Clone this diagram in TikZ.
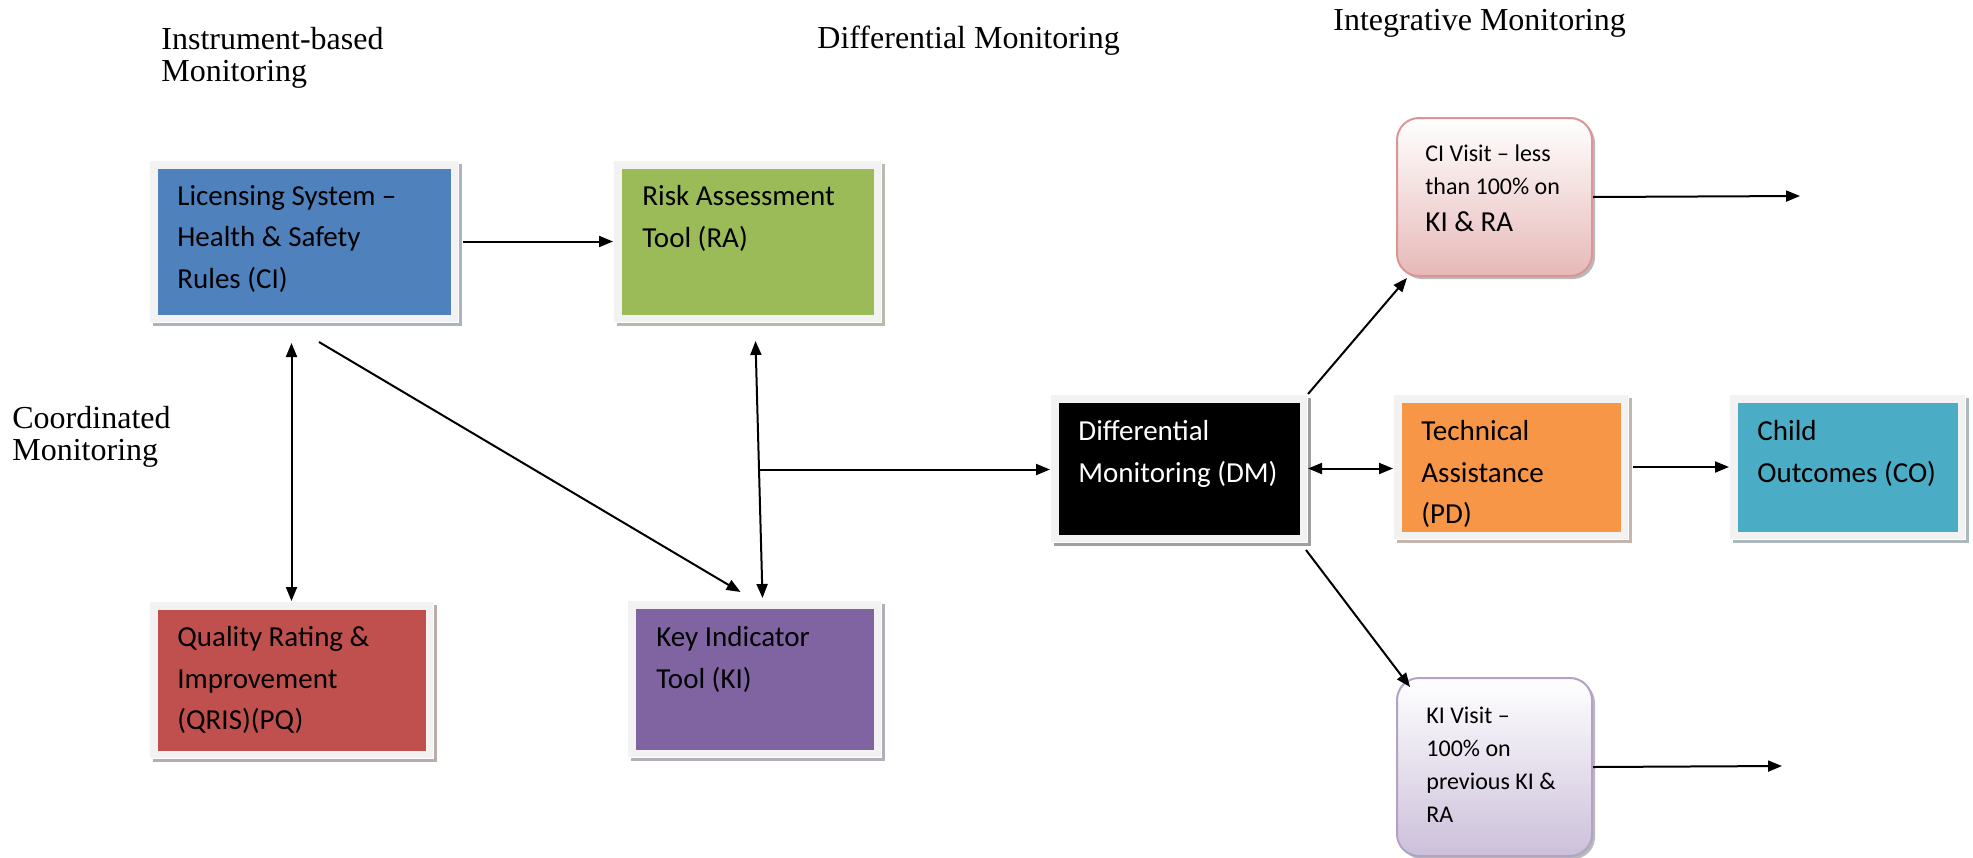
\documentclass[tikz,border=0pt]{standalone}
\usepackage{fontspec}
\setmainfont{Liberation Serif}
\newfontfamily\calfont{Carlito}
\usetikzlibrary{arrows.meta,shadows}
\definecolor{rimgray}{HTML}{F2F2F2}
\definecolor{ciblue}{HTML}{4F81BD}
\definecolor{ragreen}{HTML}{9BBB59}
\definecolor{pqred}{HTML}{C0504D}
\definecolor{kipurple}{HTML}{8064A2}
\definecolor{taorange}{HTML}{F79646}
\definecolor{coteal}{HTML}{4BACC6}
\definecolor{cvpink}{HTML}{E6B9B8}
\definecolor{cvline}{HTML}{D99694}
\definecolor{kvlilac}{HTML}{CCC0DA}
\definecolor{kvline}{HTML}{B3A2C7}
\tikzset{
  >={Triangle[length=7pt,width=5.5pt]},
  conn/.style={line width=1pt},
  toolbox/.style={rectangle,anchor=north west,inner sep=0pt,fill=rimgray,draw=white,line width=0.5pt,
    drop shadow={shadow xshift=1.8pt,shadow yshift=-1.8pt,fill=#1!25!gray!60,opacity=1},
    path picture={\fill[#1] ([shift={(4pt,-4pt)}]path picture bounding box.north west) rectangle ([shift={(-4pt,4pt)}]path picture bounding box.south east);}},
  visit/.style 2 args={rectangle,anchor=north west,inner sep=0pt,rounded corners=11pt,top color=white,bottom color=#1,draw=#2,line width=1pt,
    drop shadow={shadow xshift=1.5pt,shadow yshift=-1.5pt,fill=gray!55,opacity=1}},
  boxtext/.style={anchor=north west,inner sep=0pt,align=left,font=\calfont\fontsize{14.5pt}{20.8pt}\selectfont,execute at begin node=\strut},
  visittext/.style={anchor=north west,inner sep=0pt,align=left,font=\calfont\fontsize{12pt}{16.5pt}\selectfont,execute at begin node=\strut},
  heading/.style={anchor=north west,inner sep=0pt,align=left,font=\fontsize{16pt}{16pt}\selectfont,execute at begin node=\strut}
}
\begin{document}
\begin{tikzpicture}[x=0.5pt,y=-0.5pt]
\useasboundingbox (0,0) rectangle (1973,857);
\node[heading] (h-inst) at (161,27) {Instrument-based\\Monitoring};
\node[heading] (h-diff) at (817,26) {Differential Monitoring};
\node[heading] (h-int) at (1333,8) {Integrative Monitoring};
\node[heading] (h-coord) at (12,406) {Coordinated\\Monitoring};

\node[toolbox=ciblue,minimum width=154.5pt,minimum height=81pt] (ci) at (149,160) {};
\node[boxtext] (ci-t) at ([shift={(28,25)}]ci.north west) {Licensing System –\\Health \& Safety\\Rules (CI)};
\node[toolbox=ragreen,minimum width=134pt,minimum height=81pt] (ra) at (613,160) {};
\node[boxtext] (ra-t) at ([shift={(29,25)}]ra.north west) {Risk Assessment\\Tool (RA)};
\node[toolbox=pqred,minimum width=142pt,minimum height=78.5pt] (pq) at (149,601) {};
\node[boxtext] (pq-t) at ([shift={(28,25)}]pq.north west) {Quality Rating \&\\Improvement\\(QRIS)(PQ)};
\node[toolbox=kipurple,minimum width=127pt,minimum height=78.5pt] (ki) at (627,600) {};
\node[boxtext] (ki-t) at ([shift={(29,26)}]ki.north west) {Key Indicator\\Tool (KI)};
\node[toolbox=black,minimum width=128.5pt,minimum height=74pt] (dm) at (1050,394) {};
\node[boxtext,text=white] (dm-t) at ([shift={(28,26)}]dm.north west) {Differential\\Monitoring (DM)};
\node[toolbox=taorange,minimum width=117.5pt,minimum height=72.5pt] (ta) at (1393,394) {};
\node[boxtext] (ta-t) at ([shift={(28,26)}]ta.north west) {Technical\\Assistance\\(PD)};
\node[toolbox=coteal,minimum width=118pt,minimum height=72.5pt] (co) at (1729,394) {};
\node[boxtext] (co-t) at ([shift={(28,26)}]co.north west) {Child\\Outcomes (CO)};

\node[visit={cvpink}{cvline},minimum width=97.5pt,minimum height=79pt] (civ) at (1396,117) {};
\node[visittext] (civ-t) at ([shift={(29,27)}]civ.north west) {CI Visit – less\\than 100\% on\\[2pt]{\fontsize{14.5pt}{17pt}\selectfont KI \& RA}};
\node[visit={kvlilac}{kvline},minimum width=97.5pt,minimum height=89pt] (kiv) at (1396,677) {};
\node[visittext] (kiv-t) at ([shift={(30,30)}]kiv.north west) {KI Visit –\\100\% on\\previous KI \&\\RA};
\coordinate (civ-out) at (1800,196);
\coordinate (kiv-out) at (1782,766);

\draw[conn,->] ([xshift=2pt]ci.east) -- (ra.west);
\draw[conn,<->] ([yshift=-10pt]ci.south -| pq.north) -- (pq.north);
\draw[conn,->] ([shift={(15,19)}]ci.south) -- ([shift={(-14,-8)}]ki.north);
\draw[conn,<->] ([shift={(8,18)}]ra.south) -- coordinate[pos=0.5] (tap) ([shift={(8,-2)}]ki.north);
\draw[conn,->] (tap) -- (tap -| dm.west);
\draw[conn,<->] (dm.east) -- (dm.east -| ta.west);
\draw[conn,->] ([xshift=2pt]ta.east) -- (co.west);
\draw[conn,->] (dm.north east) -- ([shift={(11,1)}]civ.south west);
\draw[conn,->] ([shift={(-2,7)}]dm.south east) -- ([shift={(14,10)}]kiv.north west);
\draw[conn,->] (civ.east) -- (civ-out);
\draw[conn,->] (kiv.east) -- (kiv-out);
\end{tikzpicture}
\end{document}
